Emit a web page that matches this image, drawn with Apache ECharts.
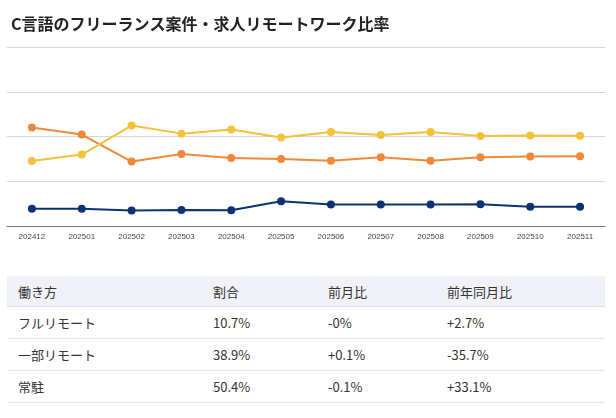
<!DOCTYPE html>
<html>
<head>
<meta charset="utf-8">
<script src="https://cdn.jsdelivr.net/npm/echarts@6/dist/echarts.min.js"></script>
<style>
  body { margin: 0; background: #fff; font-family: "Noto Sans CJK JP", "Noto Sans", sans-serif; }
  #chart { position: absolute; left: 0; top: 0; width: 616px; height: 260px; }
  #tbl { position: absolute; left: 7px; top: 276px; width: 598px; border-collapse: collapse; font-size: 13px; color: #333; }
  #tbl th, #tbl td { text-align: left; font-weight: normal; padding: 0 0 0 11px; border-bottom: 1px solid #e4e4e4; }
  #tbl th { background: #f1f1f8; height: 30px; border-bottom: 1px solid #dcdce2; }
  #tbl td { height: 31px; }
</style>
</head>
<body>
<div id="chart"></div>
<table id="tbl"></table>
<script>
var months = ['202412', '202501', '202502', '202503', '202504', '202505', '202506', '202507', '202508', '202509', '202510', '202511'];
var fullRemote = [9.7, 9.7, 8.6, 8.9, 8.8, 13.8, 12.0, 12.0, 12.0, 12.1, 10.7, 10.7];
var partRemote = [55.0, 51.1, 36.0, 40.2, 38.0, 37.4, 36.5, 38.4, 36.5, 38.4, 38.8, 38.9];
var onSite = [36.3, 39.9, 56.1, 51.6, 53.9, 49.4, 52.5, 50.8, 52.5, 50.3, 50.5, 50.4];

var tableHead = ['働き方', '割合', '前月比', '前年同月比'];
var tableRows = [
    ['フルリモート', '10.7%', '-0%', '+2.7%'],
    ['一部リモート', '38.9%', '+0.1%', '-35.7%'],
    ['常駐', '50.4%', '-0.1%', '+33.1%']
];
var colWidths = [195, 115, 119, 169];

// table under the chart
var html = '<tr>';
tableHead.forEach(function(h, i) {
    html += '<th style="width:' + (colWidths[i] - 11) + 'px">' + h + '</th>';
});
html += '</tr>';
tableRows.forEach(function(r) {
    html += '<tr>' + r.map(function(c) { return '<td>' + c + '</td>'; }).join('') + '</tr>';
});
document.getElementById('tbl').innerHTML = html;

var myChart = echarts.init(document.getElementById('chart'));

function line(name, data, color) {
    return {
        name: name,
        type: 'line',
        data: data,
        symbol: 'circle',
        symbolSize: 8,
        itemStyle: { color: color },
        lineStyle: { color: color, width: 2 },
        animation: false
    };
}

var option = {
    title: {
        text: 'C言語のフリーランス案件・求人リモートワーク比率',
        left: 6,
        top: 11,
        textStyle: { fontSize: 16, fontWeight: 'bold', color: '#222', fontFamily: 'Noto Sans CJK JP' }
    },
    grid: { left: 7, right: 11, top: 47, bottom: 34 },
    xAxis: {
        type: 'category',
        data: months,
        axisLine: { lineStyle: { color: '#777', width: 1 } },
        axisTick: { show: false },
        axisLabel: { fontSize: 8, color: '#444', margin: 7, fontFamily: 'Liberation Sans' }
    },
    yAxis: {
        type: 'value',
        min: 0,
        max: 100,
        interval: 25,
        axisLabel: { show: false },
        axisLine: { show: false },
        axisTick: { show: false },
        splitLine: { lineStyle: { color: '#d6d6d6', width: 1 } }
    },
    series: [
        line('フルリモート', fullRemote, '#0b3272'),
        line('一部リモート', partRemote, '#f0883a'),
        line('常駐', onSite, '#f3c13a')
    ]
};

myChart.setOption(option);
window.addEventListener('resize', function() {
    myChart.resize();
});
</script>
</body>
</html>
